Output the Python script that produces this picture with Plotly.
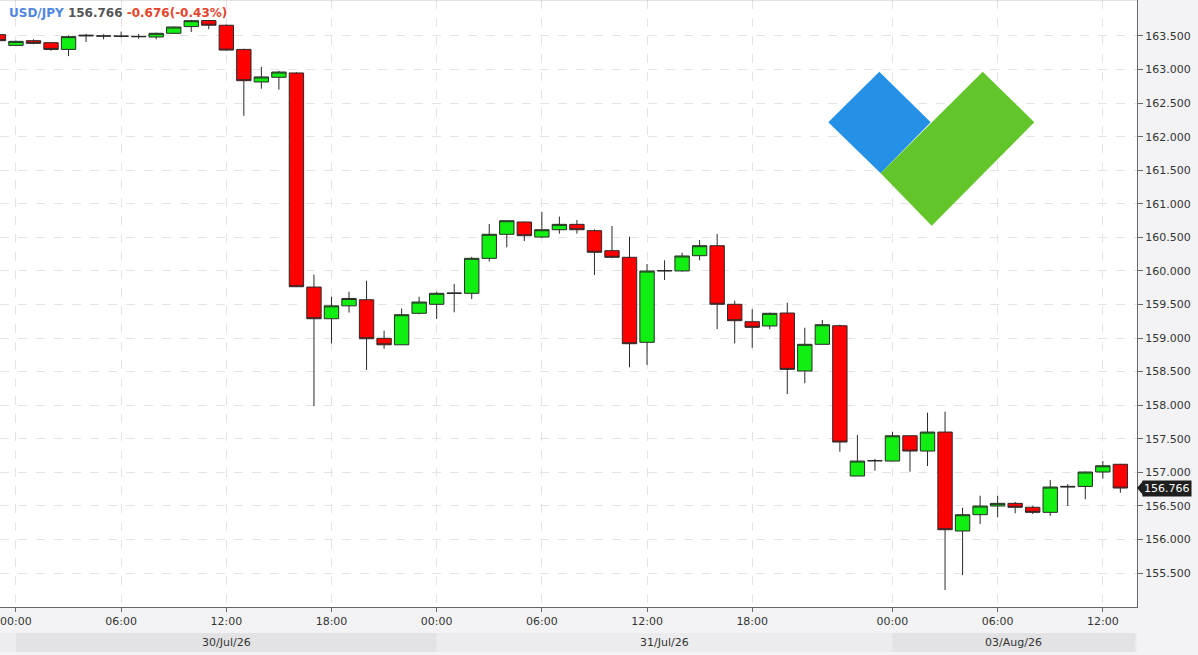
import pandas as pd
import plotly.graph_objects as go

# ---------------- data ----------------
symbol = "USD/JPY"
last_price = 156.766
change_abs = -0.676
change_pct = -0.43

times = (list(pd.date_range("2026-07-29 23:00", "2026-07-31 23:00", freq="h"))
         + list(pd.date_range("2026-08-02 22:00", "2026-08-02 23:00", freq="h"))
         + list(pd.date_range("2026-08-03 00:00", "2026-08-03 13:00", freq="h")))
time_labels = [t.strftime("%Y-%m-%d %H:%M") for t in times]

opens = [163.52, 163.36, 163.43, 163.40, 163.30, 163.50, 163.50, 163.50, 163.495, 163.485,
         163.54, 163.64, 163.73, 163.66, 163.30, 162.815, 162.885, 162.949, 159.76, 159.288,
         159.48, 159.571, 158.996, 158.90, 159.369, 159.503, 159.665, 159.667, 160.188, 160.546,
         160.729, 160.505, 160.614, 160.694, 160.60, 160.302, 160.203, 158.937, 160.00, 160.00,
         160.227, 160.376, 159.503, 159.244, 159.18, 159.373, 158.509, 158.907, 159.184, 156.945,
         157.17, 157.168, 157.545, 157.317, 157.60, 156.126, 156.369, 156.498, 156.538, 156.479,
         156.404, 156.78, 156.79, 157.005, 157.12]
highs = [163.55, 163.43, 163.45, 163.41, 163.51, 163.53, 163.525, 163.565, 163.53, 163.55,
         163.64, 163.74, 163.74, 163.67, 163.31, 163.04, 162.98, 162.96, 159.944, 159.616,
         159.69, 159.855, 159.11, 159.44, 159.616, 159.69, 159.805, 160.21, 160.70, 160.75,
         160.735, 160.882, 160.81, 160.759, 160.62, 160.67, 160.51, 160.103, 160.158, 160.272,
         160.46, 160.55, 159.557, 159.43, 159.38, 159.527, 159.154, 159.269, 159.20, 157.556,
         157.20, 157.605, 157.55, 157.888, 157.903, 156.473, 156.652, 156.652, 156.56, 156.50,
         156.885, 156.826, 157.01, 157.168, 157.125]
lows = [163.42, 163.35, 163.376, 163.28, 163.20, 163.41, 163.45, 163.48, 163.46, 163.45,
        163.53, 163.56, 163.60, 163.28, 162.31, 162.715, 162.70, 159.76, 157.988, 158.92,
        159.38, 158.524, 158.84, 158.90, 159.354, 159.284, 159.384, 159.58, 160.14, 160.352,
        160.446, 160.49, 160.555, 160.555, 159.94, 160.19, 158.564, 158.60, 159.865, 159.99,
        160.16, 159.135, 158.92, 158.856, 159.13, 158.167, 158.326, 158.90, 157.307, 156.945,
        157.025, 157.16, 157.01, 157.094, 155.247, 155.47, 156.23, 156.33, 156.389, 156.38,
        156.35, 156.498, 156.598, 156.905, 156.696]
closes = [163.43, 163.42, 163.39, 163.30, 163.49, 163.51, 163.50, 163.495, 163.49, 163.54,
          163.634, 163.728, 163.66, 163.29, 162.834, 162.89, 162.963, 159.765, 159.288, 159.48,
          159.59, 158.99, 158.90, 159.348, 159.537, 159.667, 159.67, 160.188, 160.546, 160.748,
          160.525, 160.614, 160.694, 160.614, 160.278, 160.203, 158.916, 159.999, 160.005, 160.223,
          160.376, 159.503, 159.259, 159.16, 159.369, 158.534, 158.907, 159.199, 157.451, 157.168,
          157.175, 157.545, 157.317, 157.60, 156.145, 156.369, 156.498, 156.538, 156.479, 156.404,
          156.781, 156.79, 157.005, 157.098, 156.766]

tick_times = ["2026-07-30 00:00", "2026-07-30 06:00", "2026-07-30 12:00", "2026-07-30 18:00",
              "2026-07-31 00:00", "2026-07-31 06:00", "2026-07-31 12:00", "2026-07-31 18:00",
              "2026-08-03 00:00", "2026-08-03 06:00", "2026-08-03 12:00"]
tick_text = ["00:00", "06:00", "12:00", "18:00", "00:00", "06:00", "12:00", "18:00",
             "00:00", "06:00", "12:00"]

day_labels = ["30/Jul/26", "31/Jul/26", "03/Aug/26"]
day_starts = ["2026-07-30 00:00", "2026-07-31 00:00", "2026-08-03 00:00"]

y_ticks = [155.5 + 0.5 * k for k in range(17)]

# ---------------- geometry ----------------
W, H = 1198, 655
ML, MR, MT, MB = 0, 61, 0, 48
PW, PH = W - ML - MR, H - MT - MB
x_range = [0.09, 64.95]
y_range = [154.994, 164.036]


def pos(label):
    return time_labels.index(label)


def xp(v):  # data x position -> paper
    return (v - x_range[0]) / (x_range[1] - x_range[0])


def yp(v):  # data y -> paper
    return (v - y_range[0]) / (y_range[1] - y_range[0])


def px(x):  # pixel -> paper
    return (x - ML) / PW


def py(y):
    return (PH + MT - y) / PH


fig = go.Figure()
fig.add_trace(go.Candlestick(
    x=time_labels, open=opens, high=highs, low=lows, close=closes,
    increasing=dict(line=dict(color="#2a2a2a", width=1), fillcolor="#11ee11"),
    decreasing=dict(line=dict(color="#2a2a2a", width=1), fillcolor="#ff0000"),
    whiskerwidth=0, hoverinfo="skip", showlegend=False,
))

shapes = []
# logo
def poly(pts, color):
    d = "M " + " L ".join(f"{px(a):.5f},{py(b):.5f}" for a, b in pts) + " Z"
    return dict(type="path", xref="paper", yref="paper", path=d, fillcolor=color,
                line=dict(width=0), layer="above")

shapes.append(poly([(828.3, 122.3), (879.3, 71.7), (930.7, 122.3), (880.7, 173.3)], "#2490e6"))
shapes.append(poly([(880.7, 173.3), (982.7, 71.7), (1034.3, 122.3), (931.7, 225.7)], "#62c62a"))

# top border
shapes.append(dict(type="line", xref="paper", yref="paper", x0=0, x1=1, y0=1, y1=1,
                   line=dict(color="#c8c8c8", width=1)))

# date band row
band_y0, band_y1 = py(652), py(633)
shapes.append(dict(type="rect", xref="paper", yref="paper", x0=0, x1=1,
                   y0=band_y0, y1=band_y1, fillcolor="#ededef", line=dict(width=0), layer="below"))
band_edges = [pos(d) for d in day_starts] + [x_range[1] - 0.1]
band_colors = ["#e3e3e5", "#ececee", "#e3e3e5"]
annotations = []
for i, lab in enumerate(day_labels):
    a, b = band_edges[i], band_edges[i + 1]
    shapes.append(dict(type="rect", xref="paper", yref="paper", x0=xp(a), x1=xp(b),
                       y0=band_y0, y1=band_y1, fillcolor=band_colors[i],
                       line=dict(width=0), layer="below"))
    annotations.append(dict(x=xp((a + b) / 2), y=(band_y0 + band_y1) / 2, xref="paper",
                            yref="paper", text=lab, showarrow=False,
                            font=dict(family="DejaVu Sans", size=11, color="#333333"),
                            xanchor="center", yanchor="middle"))

# last price tag
ly = yp(last_price)
shapes.append(dict(type="path", xref="paper", yref="paper",
                   path=f"M 1.0,{ly:.5f} L {1 + 6 / PW:.5f},{ly + 7 / PH:.5f} "
                        f"L {1 + 6 / PW:.5f},{ly - 7 / PH:.5f} Z",
                   fillcolor="#1e1e1e", line=dict(width=0)))
annotations.append(dict(x=1 + 5 / PW, y=ly, xref="paper", yref="paper",
                        text=f"{last_price:.3f}", showarrow=False, xanchor="left",
                        yanchor="middle", bgcolor="#1e1e1e", borderpad=1,
                        font=dict(family="DejaVu Sans", size=11, color="white")))

# title
title_html = (f"<b><span style='color:#4f86e0'>{symbol}</span> "
              f"<span style='color:#555555'>{last_price:.3f}</span> "
              f"<span style='color:#e5452d'>{change_abs:.3f}({change_pct:.2f}%)</span></b>")
annotations.append(dict(x=px(7), y=py(13), xref="paper", yref="paper", text=title_html,
                        showarrow=False, xanchor="left", yanchor="middle",
                        font=dict(family="DejaVu Sans", size=12)))

fig.update_layout(
    width=W, height=H,
    margin=dict(l=ML, r=MR, t=MT, b=MB, pad=0),
    paper_bgcolor="#f3f3f5", plot_bgcolor="white",
    boxgap=0.0, boxgroupgap=0.18,
    shapes=shapes, annotations=annotations,
    font=dict(family="DejaVu Sans", size=11, color="#333333"),
    xaxis=dict(type="category", range=x_range, rangeslider=dict(visible=False),
               tickvals=tick_times, ticktext=tick_text, ticks="outside", ticklen=4,
               tickcolor="#666666", showline=True, linecolor="#666666", linewidth=1,
               showgrid=True, gridcolor="#e4e4e4", griddash="dash", gridwidth=1,
               tickfont=dict(family="DejaVu Sans", size=11, color="#333333"),
               zeroline=False, fixedrange=True),
    yaxis=dict(side="right", range=y_range, tickvals=y_ticks,
               ticktext=[f"{v:.3f}" for v in y_ticks], ticks="outside", ticklen=5,
               tickcolor="#666666", showline=True, linecolor="#666666", linewidth=1,
               showgrid=True, gridcolor="#e4e4e4", griddash="dash", gridwidth=1,
               tickfont=dict(family="DejaVu Sans", size=11, color="#333333"),
               zeroline=False, fixedrange=True),
    hovermode=False,
)

fig.write_html("out.html", post_script="document.body.style.margin='0';",
               config={"displayModeBar": False})
